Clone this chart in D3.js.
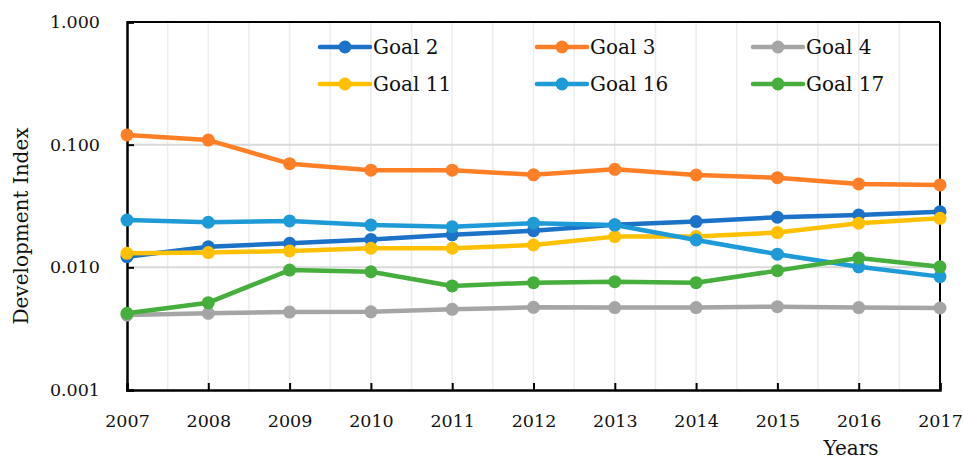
<!DOCTYPE html>
<html>
<head>
<meta charset="utf-8">
<script src="https://cdn.jsdelivr.net/npm/d3@7"></script>
<style>
  body { margin: 0; background: #fff; }
  text { font-family: "DejaVu Serif", "Liberation Serif", serif; fill: #111; }
</style>
</head>
<body>
<svg id="svg" width="963" height="459"></svg>
<script>
var years = [2007, 2008, 2009, 2010, 2011, 2012, 2013, 2014, 2015, 2016, 2017];

var goal2  = [0.0122, 0.0147, 0.0157, 0.0169, 0.0184, 0.0199, 0.0222, 0.0236, 0.0256, 0.0267, 0.0284];
var goal3  = [0.120, 0.109, 0.070, 0.062, 0.062, 0.0568, 0.063, 0.0566, 0.0538, 0.0478, 0.0470];
var goal4  = [0.00408, 0.00422, 0.00432, 0.00434, 0.00455, 0.00472, 0.0047, 0.0047, 0.00478, 0.0047, 0.00466];
var goal11 = [0.0130, 0.0132, 0.0136, 0.0143, 0.0143, 0.0152, 0.0178, 0.0178, 0.0192, 0.0229, 0.0251];
var goal16 = [0.0243, 0.0233, 0.0239, 0.0221, 0.0214, 0.0229, 0.0221, 0.0167, 0.0128, 0.0101, 0.0084];
var goal17 = [0.00422, 0.00515, 0.0095, 0.0092, 0.00705, 0.0075, 0.00764, 0.0075, 0.0094, 0.0119, 0.0101];

var yTicks = [0.001, 0.01, 0.1, 1];

var series = [
  { name: "Goal 2",  values: goal2,  color: "#1c72c6" },
  { name: "Goal 3",  values: goal3,  color: "#ff7f27" },
  { name: "Goal 4",  values: goal4,  color: "#a5a5a5" },
  { name: "Goal 11", values: goal11, color: "#ffc000" },
  { name: "Goal 16", values: goal16, color: "#1e9bd7" },
  { name: "Goal 17", values: goal17, color: "#45ae3c" }
];

var svg = d3.select("#svg");
// plot box (note: "top" is reserved on window, so use other names)
var pLeft = 127, pRight = 940, pTop = 22, pBottom = 390;

var x = d3.scaleLinear().domain([2007, 2017]).range([pLeft, pRight]);
var y = d3.scaleLog().domain([0.001, 1]).range([pBottom, pTop]);

// vertical light grid every half year
var halfYears = d3.range(2007.5, 2017, 0.5);
svg.append("g").selectAll("line").data(halfYears).enter().append("line")
  .attr("x1", function(d){ return x(d); }).attr("x2", function(d){ return x(d); })
  .attr("y1", pTop).attr("y2", pBottom)
  .attr("stroke", "#ececec").attr("stroke-width", 1.5);

// horizontal grid
svg.append("g").selectAll("line").data([0.01, 0.1]).enter().append("line")
  .attr("x1", pLeft).attr("x2", pRight)
  .attr("y1", function(d){ return y(d); }).attr("y2", function(d){ return y(d); })
  .attr("stroke", "#d9d9d9").attr("stroke-width", 2);

// frame
svg.append("line").attr("x1", pLeft).attr("x2", pRight).attr("y1", pTop).attr("y2", pTop)
  .attr("stroke", "#000").attr("stroke-width", 2);
svg.append("line").attr("x1", pRight).attr("x2", pRight).attr("y1", pTop).attr("y2", pBottom)
  .attr("stroke", "#000").attr("stroke-width", 2);

// axes
var xAxis = d3.axisBottom(x).tickValues(years).tickFormat(d3.format("d")).tickSize(-7).tickPadding(25);
var gx = svg.append("g").attr("transform", "translate(0," + pBottom + ")").call(xAxis);
gx.select(".domain").attr("stroke", "#000").attr("stroke-width", 2.5);
gx.selectAll(".tick line").attr("stroke", "#000").attr("stroke-width", 2);
gx.selectAll("text").attr("font-size", 17.5).attr("font-family", "DejaVu Serif").attr("fill", "#111");

var yAxis = d3.axisLeft(y).tickValues(yTicks).tickFormat(d3.format(".3f")).tickSize(-7).tickPadding(27);
var gy = svg.append("g").attr("transform", "translate(" + pLeft + ",0)").call(yAxis);
gy.select(".domain").attr("stroke", "#000").attr("stroke-width", 2.5);
gy.selectAll(".tick line").attr("stroke", "#000").attr("stroke-width", 2);
gy.selectAll("text").attr("font-size", 17.5).attr("font-family", "DejaVu Serif").attr("fill", "#111");

// lines
var line = d3.line()
  .x(function(d, i){ return x(years[i]); })
  .y(function(d){ return y(d); });

series.forEach(function(s){
  var g = svg.append("g");
  g.append("path").datum(s.values).attr("d", line)
    .attr("fill", "none").attr("stroke", s.color).attr("stroke-width", 4.5)
    .attr("stroke-linejoin", "round");
  g.selectAll("circle").data(s.values).enter().append("circle")
    .attr("cx", function(d, i){ return x(years[i]); })
    .attr("cy", function(d){ return y(d); })
    .attr("r", 6.5).attr("fill", s.color);
});

// legend
var legX = [320, 537, 753], legY = [47, 84];
series.forEach(function(s, i){
  var lx = legX[i % 3], ly = legY[Math.floor(i / 3)];
  var g = svg.append("g").attr("transform", "translate(" + lx + "," + ly + ")");
  g.append("line").attr("x1", 0).attr("x2", 50).attr("y1", 0).attr("y2", 0)
    .attr("stroke", s.color).attr("stroke-width", 4.5).attr("stroke-linecap", "round");
  g.append("circle").attr("cx", 25).attr("cy", 0).attr("r", 6.5).attr("fill", s.color);
  g.append("text").attr("x", 53).attr("y", 7).attr("font-size", 20).text(s.name);
});

// axis titles
svg.append("text").attr("transform", "translate(28," + 226 + ") rotate(-90)")
  .attr("text-anchor", "middle").attr("font-size", 20).text("Development Index");
svg.append("text").attr("x", 851).attr("y", 455).attr("text-anchor", "middle")
  .attr("font-size", 20).text("Years");
</script>
</body>
</html>
